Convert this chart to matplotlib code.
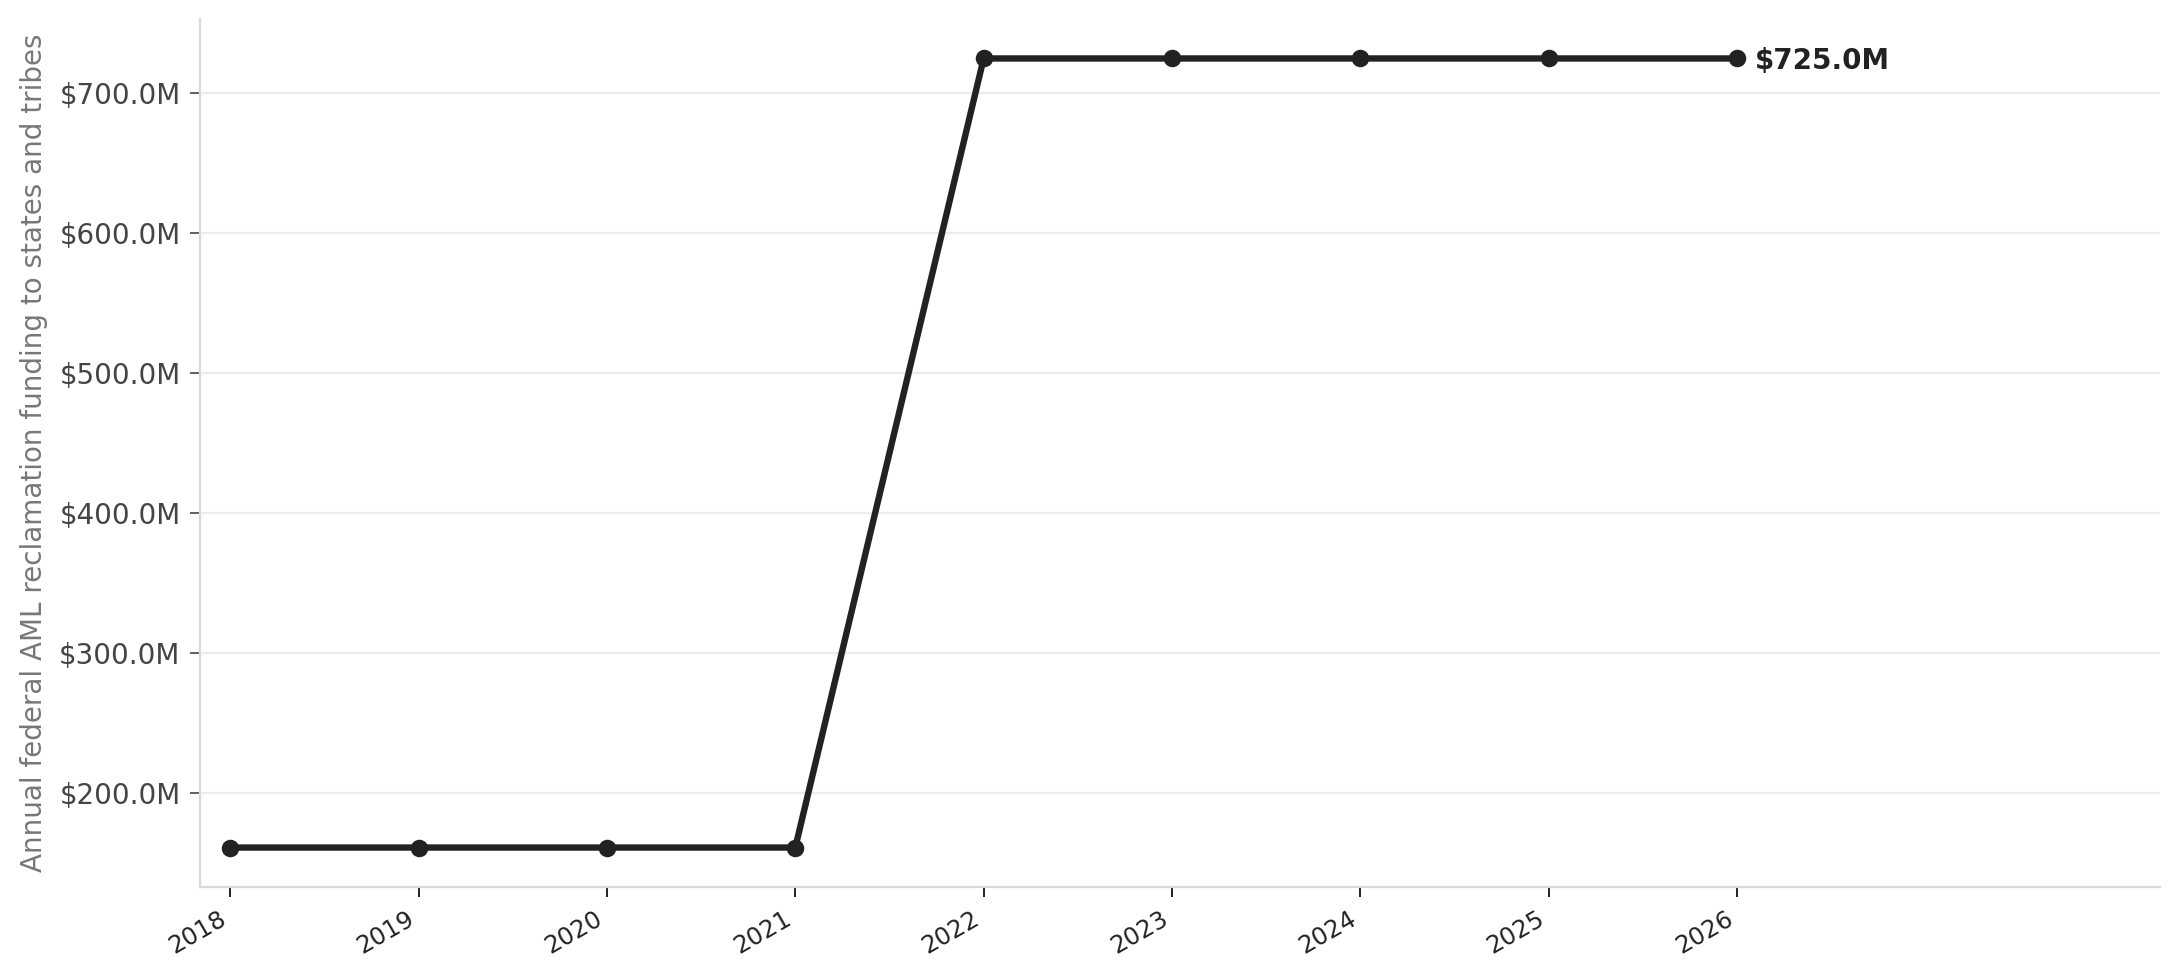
import matplotlib
matplotlib.use("Agg")
import matplotlib.pyplot as plt
from matplotlib.ticker import FuncFormatter

plt.rcParams["font.family"] = ["DejaVu Sans"]

# 数据
years = [2018, 2019, 2020, 2021, 2022, 2023, 2024, 2025, 2026]
funding_m = [161.0, 161.0, 161.0, 161.0, 725.0, 725.0, 725.0, 725.0, 725.0]
ylabel = "Annual federal AML reclamation funding to states and tribes"

fig = plt.figure(figsize=(10.895, 4.9), dpi=200)
ax = fig.add_axes([0.0918, 0.0949, 0.8995, 0.8857])

ax.plot(years, funding_m, color="#222222", linewidth=2.3,
        marker="o", markersize=5.3, zorder=3)

# 最后一个点的标注
ax.annotate(f"${funding_m[-1]:.1f}M", xy=(years[-1], funding_m[-1]),
            xytext=(6.5, -0.8), textcoords="offset points",
            ha="left", va="center", fontsize=10, fontweight="bold",
            color="#222222")

ax.set_xlim(2017.84, 2028.245)
ax.set_xticks(years)
ax.set_xticklabels([str(y) for y in years], rotation=30, ha="right",
                   fontsize=8.8, color="#222222")
ax.yaxis.set_major_formatter(FuncFormatter(lambda v, p: f"${v:.1f}M"))
ax.tick_params(axis="y", labelsize=10, labelcolor="#444444",
               color="#444444", length=3.5, width=0.6)
ax.tick_params(axis="x", color="#222222", length=3.5, width=0.7)

ax.set_ylabel(ylabel, fontsize=10, color="#777777", labelpad=4)

ax.grid(axis="y", color="#ebebeb", linewidth=0.8)
ax.set_axisbelow(True)
for side in ["top", "right"]:
    ax.spines[side].set_visible(False)
for side in ["left", "bottom"]:
    ax.spines[side].set_color("#d9d9d9")
    ax.spines[side].set_linewidth(0.8)

fig.savefig("out.png", dpi=200)
